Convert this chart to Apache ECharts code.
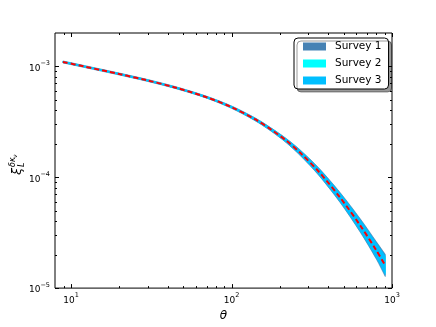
<!DOCTYPE html>
<html><head>
<meta charset="utf-8">
<title>xi theta</title>
<script src="https://cdn.jsdelivr.net/npm/echarts@6/dist/echarts.min.js"></script>
<style>body{margin:0;background:#fff}#main{width:436px;height:327px}</style>
</head>
<body>
<div id="main"></div>
<script type="text/javascript">
// data
var theta = [8.9, 12, 20, 30, 45, 70, 100, 140, 175, 220, 268, 350, 476, 634, 800, 908];
var xi = [1.094e-3, 9.98e-4, 8.51e-4, 7.45e-4, 6.41e-4, 5.26e-4, 4.28e-4, 3.33e-4, 2.71e-4, 2.13e-4, 1.66e-4, 1.12e-4, 6.53e-5, 3.67e-5, 2.18e-5, 1.60e-5];
// fractional half widths of the bands
var spread1 = [0.02, 0.02, 0.02, 0.02, 0.02, 0.02, 0.025, 0.03, 0.035, 0.045, 0.06, 0.08, 0.11, 0.15, 0.2, 0.26];
var spread2 = [0.01, 0.01, 0.01, 0.01, 0.01, 0.012, 0.015, 0.018, 0.022, 0.028, 0.037, 0.05, 0.07, 0.1, 0.13, 0.17];
var spread3 = [0.015, 0.015, 0.015, 0.015, 0.015, 0.017, 0.02, 0.025, 0.03, 0.038, 0.05, 0.068, 0.093, 0.127, 0.17, 0.22];
var surveys = ['Survey 1', 'Survey 2', 'Survey 3'];
var colors = ['#4682b4', '#00ffff', '#00bfff'];

var xMajor = [10, 100, 1000];
var xMinor = [9, 20, 30, 40, 50, 60, 70, 80, 90, 200, 300, 400, 500, 600, 700, 800, 900];
var yMajor = [1e-5, 1e-4, 1e-3];
var yMinor = [2e-5, 3e-5, 4e-5, 5e-5, 6e-5, 7e-5, 8e-5, 9e-5, 2e-4, 3e-4, 4e-4, 5e-4, 6e-4, 7e-4, 8e-4, 9e-4];

// both axes work in log10 space
var xLogMin = 0.9, xLogMax = 3, yLogMin = -5, yLogMax = -2.7;
var lg = Math.log10;

var myChart = echarts.init(document.getElementById('main'));

function powLabel(v) {
    var e = Math.round(v);
    if (Math.abs(v - e) > 1e-6) return '';
    return '{b|10}{s|' + (e < 0 ? '\u2212' + (-e) : e) + '}';
}
var richTick = {
    b: { fontSize: 9, lineHeight: 13, verticalAlign: 'bottom', fontFamily: 'DejaVu Sans', color: '#000' },
    s: { fontSize: 6.5, lineHeight: 13, verticalAlign: 'top', fontFamily: 'DejaVu Sans', color: '#000' }
};

var series = [];
var spreads = [spread1, spread2, spread3];

// one filled band per survey
function bandSeries(k) {
    var data = [];
    for (var i = 0; i < theta.length; i++) {
        var w = lg(1 + spreads[k][i]);
        data.push([lg(theta[i]), lg(xi[i]) + w, lg(xi[i]) - w]);
    }
    return {
        name: surveys[k], type: 'custom', data: data, z: 2 + k,
        itemStyle: { color: colors[k] },
        encode: { x: 0, y: [1, 2] },
        renderItem: function (params, api) {
            if (params.dataIndex !== 0) return null;
            var up = [], dn = [];
            for (var i = 0; i < data.length; i++) {
                up.push(api.coord([data[i][0], data[i][1]]));
                dn.push(api.coord([data[i][0], data[i][2]]));
            }
            dn.reverse();
            // repeat the end points so the cut ends stay square
            var pts = [up[0]].concat(up, [up[up.length - 1], dn[0]], dn, [dn[dn.length - 1]]);
            return {
                type: 'polygon',
                shape: { points: pts, smooth: 0.3 },
                style: { fill: colors[k], stroke: colors[k], lineWidth: 0.6 }
            };
        }
    };
}
for (var k = 0; k < 3; k++) series.push(bandSeries(k));

var mid = [];
for (var i = 0; i < theta.length; i++) mid.push([lg(theta[i]), lg(xi[i])]);
series.push({
    name: 'center', type: 'line', data: mid, smooth: 0.3,
    showSymbol: false, symbol: 'none', z: 6,
    lineStyle: { color: '#ff0000', width: 2, type: [5, 3] }
});

// tick marks on all four sides, matplotlib style
var tickData = [];
xMajor.forEach(function (v) { tickData.push([lg(v), yLogMin, 1, 0]); });
xMinor.forEach(function (v) { tickData.push([lg(v), yLogMin, 0, 0]); });
yMajor.forEach(function (v) { tickData.push([xLogMin, lg(v), 1, 1]); });
yMinor.forEach(function (v) { tickData.push([xLogMin, lg(v), 0, 1]); });
series.push({
    name: 'ticks', type: 'custom', data: tickData, z: 7, silent: true,
    encode: { x: 0, y: 1 },
    renderItem: function (params, api) {
        var cs = params.coordSys;
        var len = api.value(2) ? 4 : 2;
        var p = api.coord([api.value(0), api.value(1)]);
        var st = { stroke: '#000', lineWidth: 1 };
        if (api.value(3) === 0) {
            var x = Math.round(p[0]) + 0.5;
            return { type: 'group', children: [
                { type: 'line', shape: { x1: x, y1: cs.y + cs.height, x2: x, y2: cs.y + cs.height - len }, style: st },
                { type: 'line', shape: { x1: x, y1: cs.y, x2: x, y2: cs.y + len }, style: st }
            ] };
        }
        var y = Math.round(p[1]) + 0.5;
        return { type: 'group', children: [
            { type: 'line', shape: { x1: cs.x, y1: y, x2: cs.x + len, y2: y }, style: st },
            { type: 'line', shape: { x1: cs.x + cs.width, y1: y, x2: cs.x + cs.width - len, y2: y }, style: st }
        ] };
    }
});

var option = {
    animation: false,
    backgroundColor: '#fff',
    grid: { left: 55, right: 44, top: 33, bottom: 33, show: true, borderColor: '#000', borderWidth: 1 },
    legend: {
        orient: 'vertical', left: 294, top: 38,
        data: surveys.map(function (s) { return { name: s, icon: 'rect' }; }),
        itemWidth: 23, itemHeight: 8, itemGap: 6,
        padding: [3, 7, 3, 9],
        backgroundColor: '#fff', borderColor: '#000', borderWidth: 1, borderRadius: 4,
        shadowColor: 'rgba(0,0,0,0.4)', shadowOffsetX: 3, shadowOffsetY: 3, shadowBlur: 0,
        textStyle: { fontFamily: 'DejaVu Sans', fontSize: 10.5, color: '#000', padding: [0, 0, 0, 4] },
        selectedMode: false
    },
    xAxis: {
        type: 'value', min: xLogMin, max: xLogMax, interval: 0.1,
        name: '\u03b8', nameLocation: 'middle', nameGap: 21,
        nameTextStyle: { fontFamily: 'DejaVu Sans', fontStyle: 'italic', fontSize: 12, color: '#000' },
        axisLine: { show: false }, axisTick: { show: false }, splitLine: { show: false },
        axisLabel: { formatter: powLabel, rich: richTick, margin: 4 }
    },
    yAxis: {
        type: 'value', min: yLogMin, max: yLogMax, interval: 0.1,
        axisLine: { show: false }, axisTick: { show: false }, splitLine: { show: false },
        axisLabel: { formatter: powLabel, rich: richTick, margin: 5 }
    },
    graphic: [{
        type: 'group', x: 18, y: 166, rotation: Math.PI / 2,
        children: [
            { type: 'text', x: -9, y: 0, style: { text: '\u03be', font: 'italic 13px "DejaVu Sans"', fill: '#000', verticalAlign: 'middle' } },
            { type: 'text', x: -1, y: 4, style: { text: 'L', font: 'italic 8px "DejaVu Sans"', fill: '#000', verticalAlign: 'middle' } },
            { type: 'text', x: -1, y: -5, style: { text: '\u03b4\u03ba', font: 'italic 8px "DejaVu Sans"', fill: '#000', verticalAlign: 'middle' } },
            { type: 'text', x: 8, y: -2.5, style: { text: '\u03bd', font: 'italic 6px "DejaVu Sans"', fill: '#000', verticalAlign: 'middle' } }
        ]
    }],
    series: series
};
myChart.setOption(option);
</script>
</body>
</html>
